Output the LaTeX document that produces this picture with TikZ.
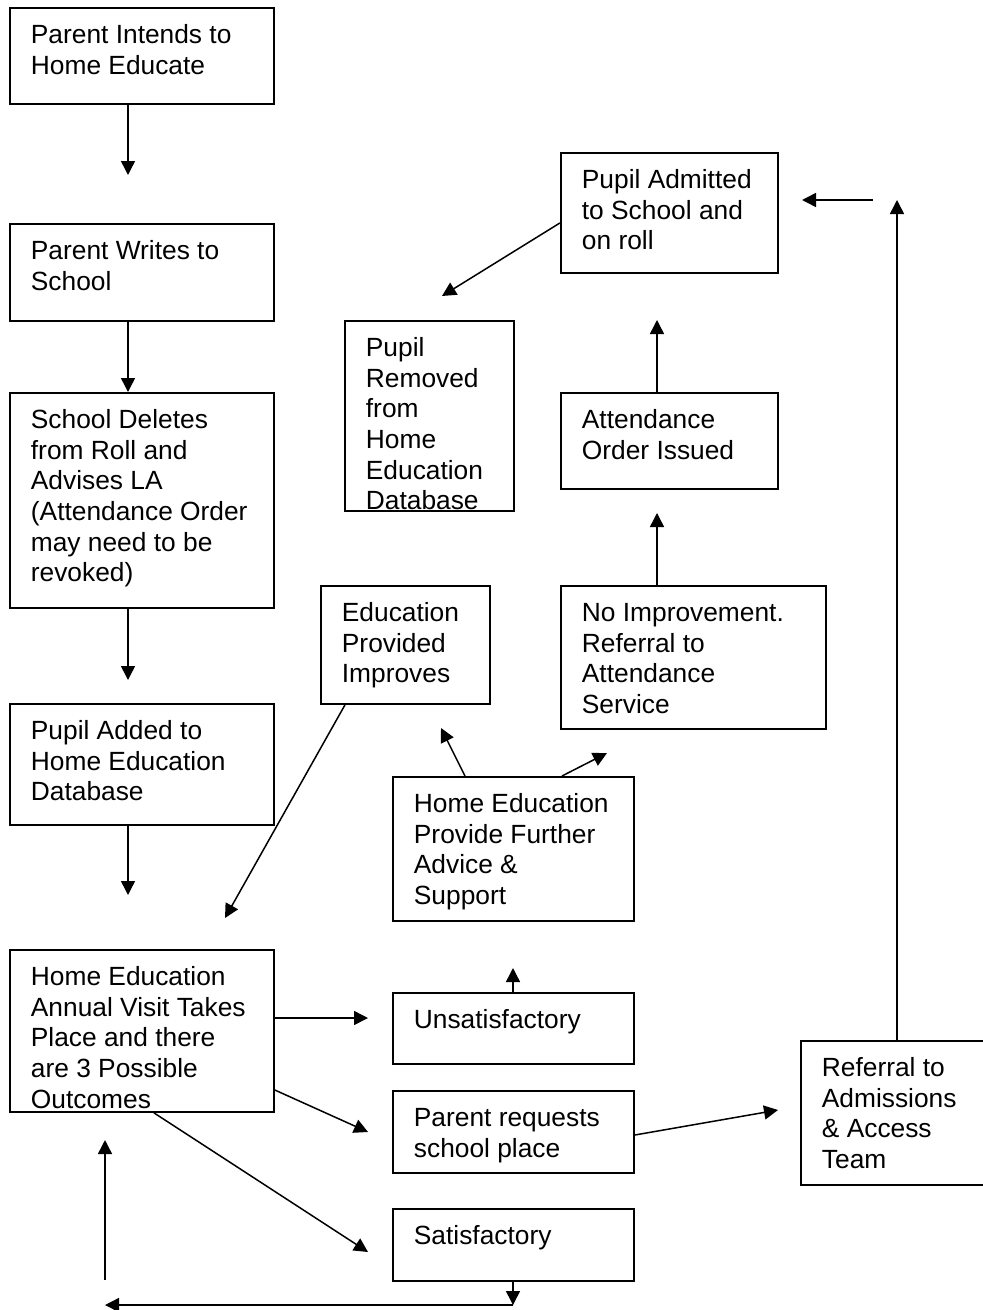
\documentclass[tikz,border=0pt]{standalone}
\usepackage{fontspec}
\setmainfont{Liberation Sans}
\usetikzlibrary{arrows.meta}
\newlength\px
\setlength\px{0.6pt}
% top-left text in a fixed box (width, height in px)
\newcommand{\flowtext}[3]{\parbox[t][#2\px][t]{#1\px}{\raggedright\leftskip=21\px\vspace*{14\px}\strut #3}}

\begin{document}
\begin{tikzpicture}[x=0.6pt, y=-0.6pt, every node/.style={font=\fontsize{15.8}{18.4}\selectfont},
  box/.style={draw, line width=1.1pt, anchor=north west, inner sep=0pt}, arr/.style={-{Triangle[length=8.4pt,width=8.4pt]}, line width=0.9pt}]
\useasboundingbox (0,0) rectangle (983,1310);
% left column
\node[box] (intend) at (9,7) {\flowtext{264}{96}{Parent Intends to\\Home Educate}};
\node[box] (writes) at (9,223) {\flowtext{264}{97}{Parent Writes to\\School}};
\node[box] (deletes) at (9,392) {\flowtext{264}{215}{School Deletes\\from Roll and\\Advises LA\\(Attendance Order\\may need to be\\revoked)}};
\node[box] (added) at (9,703) {\flowtext{264}{121}{Pupil Added to\\Home Education\\Database}};
\node[box] (visit) at (9,949) {\flowtext{264}{162}{Home Education\\Annual Visit Takes\\Place and there\\are 3 Possible\\Outcomes}};
% outcomes
\node[box] (unsat) at (392,992) {\flowtext{241}{71}{Unsatisfactory}};
\node[box] (request) at (392,1090) {\flowtext{241}{82}{Parent requests\\school place}};
\node[box] (satis) at (392,1208) {\flowtext{241}{72}{Satisfactory}};
\node[box] (advice) at (392,776) {\flowtext{241}{144}{Home Education\\Provide Further\\Advice \&\\Support}};
\node[box] (improves) at (320,585) {\flowtext{169}{118}{Education\\Provided\\Improves}};
\node[box] (noimpr) at (560,585) {\flowtext{265}{143}{No Improvement.\\Referral to\\Attendance\\Service}};
\node[box] (order) at (560,392) {\flowtext{217}{96}{Attendance\\Order Issued}};
\node[box] (removed) at (344,320) {\flowtext{169}{190}{Pupil\\Removed\\from\\Home\\Education\\Database}};
\node[box] (admitted) at (560,152) {\flowtext{217}{120}{Pupil Admitted\\to School and\\on roll}};
\node[box] (refer) at (800,1040) {\flowtext{190}{144}{Referral to\\Admissions\\\& Access\\Team}};
% arrow ends
\coordinate (t1) at (128,175);
\coordinate (t3) at (128,680);
\coordinate (t4) at (128,895);
\coordinate (t5) at (368,1018);
\coordinate (t6) at (368,1132);
\coordinate (t7) at (368,1252);
\coordinate (t8) at (513,968);
\coordinate (t9) at (441,728);
\coordinate (t10) at (607,753);
\coordinate (t11) at (225,918);
\coordinate (t12) at (657,513);
\coordinate (t13) at (657,320);
\coordinate (t14) at (442,296);
\coordinate (t15) at (897,200);
\coordinate (s16) at (873,200);
\coordinate (t16) at (802,200);
\coordinate (t17) at (778,1110);
\coordinate (t18) at (513,1305);
\coordinate (t19) at (105,1305);
\coordinate (s20) at (105,1280);
\coordinate (t20) at (105,1140);
\draw[arr] (intend.south -| t1) -- (t1);
\draw[arr] (writes.south -| t1) -- (deletes.north -| t1);
\draw[arr] (deletes.south -| t3) -- (t3);
\draw[arr] (added.south -| t4) -- (t4);
\draw[arr] (visit.east |- t5) -- (t5);
\draw[arr] (visit.east |- request.north) -- (t6);
\draw[arr] ([xshift=12\px]visit.south) -- (t7);
\draw[arr] (unsat.north -| t8) -- (t8);
\draw[arr] ([xshift=73\px]advice.north west) -- (t9);
\draw[arr] ([xshift=170\px]advice.north west) -- (t10);
\draw[arr] ([xshift=25\px]improves.south west) -- (t11);
\draw[arr] (noimpr.north -| t12) -- (t12);
\draw[arr] (order.north -| t13) -- (t13);
\draw[arr] ([yshift=-10\px]admitted.west) -- (t14);
\draw[arr] (refer.north -| t15) -- (t15);
\draw[arr] (s16) -- (t16);
\draw[arr] ([yshift=-45\px]request.north east) -- (t17);
\draw[arr] (satis.south -| t18) -- (t18);
\draw[arr] (t18) -- (t19);
\draw[arr] (s20) -- (t20);
\end{tikzpicture}
\end{document}
